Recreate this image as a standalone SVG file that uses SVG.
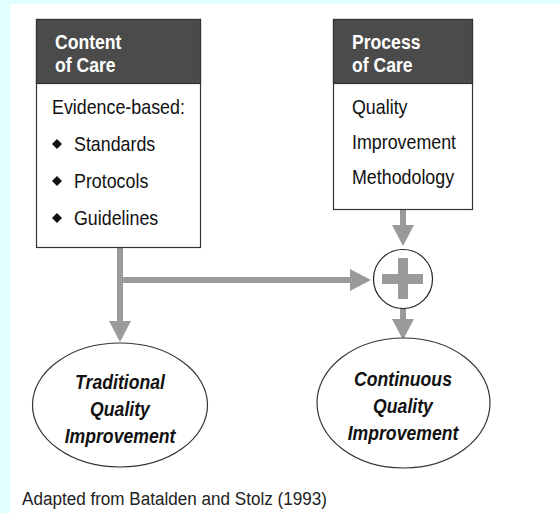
<svg xmlns="http://www.w3.org/2000/svg" width="560" height="513" viewBox="0 0 560 513">
  <defs>
    <style>
      .frame { fill: #ffffff; stroke: #333333; stroke-width: 1.2; }
      .head { fill: #4b4b4b; stroke: #333333; stroke-width: 1.2; }
      .htxt { font-family: "Liberation Sans", Arial, sans-serif; font-weight: bold; font-size: 20px; fill: #ffffff; }
      .btxt { font-family: "Liberation Sans", Arial, sans-serif; font-size: 21px; fill: #111111; }
      .otxt { font-family: "Liberation Sans", Arial, sans-serif; font-weight: bold; font-style: italic; font-size: 21px; fill: #111111; text-anchor: middle; }
      .ftxt { font-family: "Liberation Sans", Arial, sans-serif; font-size: 19px; fill: #222222; }
      .oval { fill: #ffffff; stroke: #333333; stroke-width: 1.2; }
      .wire { fill: none; stroke: #9a9a9a; stroke-width: 6; }
      .tip { fill: #9a9a9a; }
      .dot { fill: #111111; }
    </style>
  </defs>

  <!-- page background with light edge band -->
  <rect x="0" y="0" width="560" height="513" fill="#ffffff"/>
  <rect x="0" y="0" width="560" height="4" fill="#e2ffff"/>
  <rect x="0" y="0" width="10" height="513" fill="#e2ffff"/>

  <!-- connectors -->
  <g id="connectors">
    <line class="wire" x1="120" y1="248" x2="120" y2="322"/>
    <polygon class="tip" points="109,321 131,321 120,342"/>
    <line class="wire" x1="120" y1="280" x2="352" y2="280"/>
    <polygon class="tip" points="350,269 350,291 371,280"/>
    <line class="wire" x1="403" y1="210" x2="403" y2="226"/>
    <polygon class="tip" points="392,225 414,225 403,246"/>
    <line class="wire" x1="403" y1="308" x2="403" y2="320"/>
    <polygon class="tip" points="392,319 414,319 403,340"/>
  </g>

  <!-- Content of Care -->
  <g id="content-of-care">
    <rect class="frame" x="36.5" y="19.5" width="164" height="228"/>
    <rect class="head" x="36.5" y="19.5" width="164" height="64"/>
    <text class="htxt" transform="translate(55 49) scale(0.88 1)">Content</text>
    <text class="htxt" transform="translate(55 72) scale(0.88 1)">of Care</text>
    <text class="btxt" transform="translate(52 114) scale(0.85 1)">Evidence-based:</text>
    <polygon class="dot" points="57,139 62,144 57,149 52,144"/>
    <text class="btxt" transform="translate(74 151) scale(0.85 1)">Standards</text>
    <polygon class="dot" points="57,176 62,181 57,186 52,181"/>
    <text class="btxt" transform="translate(74 188) scale(0.85 1)">Protocols</text>
    <polygon class="dot" points="57,213 62,218 57,223 52,218"/>
    <text class="btxt" transform="translate(74 225) scale(0.85 1)">Guidelines</text>
  </g>

  <!-- Process of Care -->
  <g id="process-of-care">
    <rect class="frame" x="333.5" y="19.5" width="139" height="190"/>
    <rect class="head" x="333.5" y="19.5" width="139" height="64"/>
    <text class="htxt" transform="translate(352 49) scale(0.88 1)">Process</text>
    <text class="htxt" transform="translate(352 72) scale(0.88 1)">of Care</text>
    <text class="btxt" transform="translate(352 114) scale(0.85 1)">Quality</text>
    <text class="btxt" transform="translate(352 149) scale(0.85 1)">Improvement</text>
    <text class="btxt" transform="translate(352 184) scale(0.85 1)">Methodology</text>
  </g>

  <!-- combining node -->
  <g id="plus">
    <circle cx="403" cy="279" r="29.5" fill="#ffffff" stroke="#222222" stroke-width="1.2"/>
    <rect x="382" y="274" width="41" height="10" fill="#9a9a9a"/>
    <rect x="398" y="258" width="10" height="41" fill="#9a9a9a"/>
  </g>

  <!-- outcomes -->
  <g id="traditional-qi">
    <ellipse class="oval" cx="120" cy="405" rx="87.5" ry="62"/>
    <text class="otxt" transform="translate(120 389) scale(0.84 1)">Traditional</text>
    <text class="otxt" transform="translate(120 416) scale(0.84 1)">Quality</text>
    <text class="otxt" transform="translate(120 443) scale(0.84 1)">Improvement</text>
  </g>

  <g id="continuous-qi">
    <ellipse class="oval" cx="403.5" cy="403" rx="86.5" ry="65"/>
    <text class="otxt" transform="translate(403 386) scale(0.84 1)">Continuous</text>
    <text class="otxt" transform="translate(403 413) scale(0.84 1)">Quality</text>
    <text class="otxt" transform="translate(403 440) scale(0.84 1)">Improvement</text>
  </g>

  <text class="ftxt" transform="translate(22 505) scale(0.9 1)">Adapted from Batalden and Stolz (1993)</text>
</svg>
